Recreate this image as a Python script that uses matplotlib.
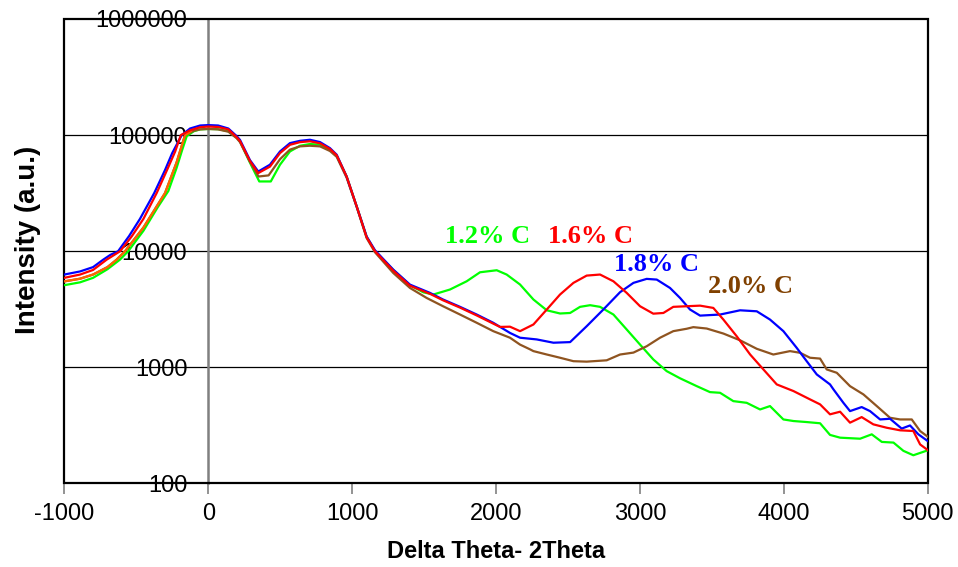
import matplotlib
matplotlib.use("Agg")
import matplotlib.pyplot as plt
from matplotlib.patches import Rectangle
from matplotlib.ticker import FixedLocator, FixedFormatter, NullLocator

# ---- data -------------------------------------------------------------
blue_x = [-1000, -890, -800, -729, -680, -626, -550, -474, -375, -300, -250, -184,
          -126, -56, 0, 69, 140, 198, 221, 290, 348, 429, 499, 568, 638, 707, 777,
          846, 893, 962, 1032, 1101, 1159, 1286, 1402, 1541, 1632, 1750, 1866, 1981,
          2097, 2167, 2283, 2399, 2515, 2630, 2746, 2862, 2955, 3047, 3117, 3209,
          3279, 3348, 3418, 3557, 3696, 3812, 3904, 3997, 4090, 4159, 4229, 4321,
          4345, 4414, 4460, 4541, 4599, 4669, 4738, 4819, 4877, 4935, 5000]
blue_y = [6300, 6700, 7300, 8470, 9300, 10000, 13500, 19000, 31700, 50000, 70000, 100000,
          114000, 121000, 122000, 121000, 114000, 98000, 91000, 61000, 48600, 55600, 72300,
          85300, 89300, 91200, 87100, 77300, 67800, 44000, 24300, 13400, 10200, 6950, 5160,
          4380, 3840, 3320, 2850, 2420, 1980, 1800, 1740, 1630, 1650, 2260, 3150, 4440,
          5340, 5780, 5700, 4830, 3960, 3150, 2790, 2850, 3100, 3040, 2580, 2050, 1470,
          1130, 869, 713, 646, 495, 420, 455, 420, 356, 361, 297, 316, 265, 232]

red_x = [-1000, -890, -800, -705, -612, -530, -450, -358, -280, -230, -190, -126, -56,
         0, 69, 140, 198, 221, 290, 348, 429, 499, 568, 638, 707, 777, 846, 893, 962,
         1032, 1101, 1159, 1286, 1402, 1541, 1632, 1750, 1866, 1981, 2028, 2097, 2167,
         2260, 2353, 2445, 2538, 2630, 2723, 2816, 2908, 3001, 3093, 3163, 3232, 3325,
         3418, 3510, 3580, 3673, 3766, 3858, 3951, 4067, 4182, 4252, 4321, 4391, 4460,
         4541, 4622, 4715, 4808, 4900, 4947, 5000]
red_y = [5900, 6300, 6900, 8470, 10000, 13500, 19000, 31700, 52000, 72000, 100000, 110000,
         117000, 118500, 117500, 112000, 96000, 89000, 60000, 47100, 53500, 70000, 82500,
         87000, 88500, 85000, 76000, 67000, 44000, 24300, 13200, 10000, 6800, 5050, 4300,
         3780, 3270, 2800, 2380, 2230, 2240, 2050, 2340, 3150, 4240, 5340, 6170, 6300,
         5510, 4380, 3360, 2900, 2940, 3320, 3360, 3400, 3250, 2580, 1850, 1290, 960, 713,
         625, 530, 480, 394, 415, 334, 373, 323, 302, 287, 283, 217, 194]

green_x = [-1000, -890, -800, -700, -613, -556, -450, -350, -277, -220, -180, -149, -100,
           -56, 0, 69, 140, 198, 221, 290, 355, 435, 499, 568, 638, 707, 777, 846, 893,
           962, 1032, 1101, 1159, 1286, 1402, 1495, 1565, 1680, 1796, 1889, 2005, 2074,
           2167, 2260, 2353, 2445, 2515, 2584, 2654, 2723, 2816, 2908, 3001, 3093, 3186,
           3279, 3395, 3487, 3557, 3649, 3742, 3835, 3904, 3997, 4067, 4159, 4252, 4321,
           4391, 4530, 4611, 4681, 4762, 4831, 4900, 5000]
green_y = [5100, 5400, 5900, 7000, 8470, 10000, 15000, 24000, 33000, 52000, 75000, 98000,
           108000, 112000, 113000, 112500, 108000, 95000, 88000, 58000, 39900, 39900, 55600,
           72300, 81000, 83800, 82700, 75000, 66000, 44000, 24300, 13300, 10000, 6900, 5100,
           4430, 4240, 4680, 5510, 6590, 6860, 6300, 5170, 3840, 3100, 2910, 2940, 3320,
           3430, 3320, 2850, 2120, 1570, 1170, 928, 805, 689, 612, 604, 512, 495, 434, 464,
           356, 345, 338, 330, 262, 248, 243, 265, 228, 225, 191, 175, 193]

orange_x = [-1000, -890, -800, -700, -636, -578, -450, -300, -220, -161, -120]
orange_y = [5500, 5800, 6300, 7300, 8470, 10000, 16000, 31700, 58000, 100000, 108000]

brown_x = [-1000, -890, -800, -700, -636, -578, -450, -300, -220, -161, -100, -56, 0,
           69, 140, 198, 221, 290, 350, 420, 499, 568, 638, 707, 777, 846, 893, 962,
           1032, 1101, 1159, 1286, 1402, 1518, 1632, 1750, 1866, 1981, 2097, 2167, 2236,
           2260, 2353, 2445, 2538, 2630, 2769, 2862, 2955, 3047, 3140, 3232, 3325, 3371,
           3464, 3580, 3696, 3812, 3927, 4043, 4113, 4182, 4252, 4298, 4368, 4460, 4553,
           4646, 4738, 4808, 4889, 4947, 5000]
brown_y = [5500, 5800, 6300, 7300, 8470, 10000, 16000, 31700, 58000, 100000, 109000, 112000,
           113000, 112000, 107000, 94000, 87000, 59000, 44000, 45000, 62000, 75000, 80000,
           81000, 80000, 73000, 65000, 43000, 24000, 13000, 9800, 6500, 4830, 3960, 3360,
           2850, 2420, 2050, 1800, 1570, 1430, 1380, 1290, 1210, 1130, 1120, 1150, 1290,
           1340, 1520, 1800, 2050, 2150, 2220, 2160, 1955, 1710, 1445, 1290, 1380, 1335,
           1210, 1190, 960, 898, 689, 585, 464, 368, 356, 356, 283, 253]

labels = ["1.2% C", "1.6% C", "1.8% C", "2.0% C"]
label_x = [1646, 2361, 2820, 3475]
label_y = [13400, 13400, 7680, 4990]

x_ticks = [-1000, 0, 1000, 2000, 3000, 4000, 5000]
y_ticks = [100, 1000, 10000, 100000, 1000000]
y_ticklabels = ["100", "1000", "10000", "100000", "1000000"]

# ---- style ------------------------------------------------------------
c_blue = "#0000ff"
c_red = "#ff0000"
c_green = "#00ff00"
c_orange = "#ff6600"
c_brown = "#8f5420"
c_brown_text = "#804000"

fig = plt.figure(figsize=(9.58, 5.67), dpi=100)
ax = fig.add_axes([0.0671, 0.1473, 0.9013, 0.8192])

ax.set_yscale("log")
ax.set_xlim(-1000, 5000)
ax.set_ylim(100, 1000000)

lw = 1.6
ax.plot(green_x, green_y, color=c_green, lw=lw, zorder=3)
ax.plot(brown_x, brown_y, color=c_brown, lw=lw, zorder=4)
ax.plot(orange_x, orange_y, color=c_orange, lw=lw, zorder=5)
ax.plot(red_x, red_y, color=c_red, lw=lw, zorder=6)
ax.plot(blue_x, blue_y, color=c_blue, lw=lw, zorder=5.5)

# horizontal gridlines at each decade
for yv in y_ticks[1:-1]:
    ax.axhline(yv, color="black", lw=0.9, zorder=1)

# vertical axis sits at x = 0
ax.spines["left"].set_position(("data", 0))
ax.spines["left"].set_color("#808080")
ax.spines["left"].set_linewidth(1.8)
ax.spines["left"].set_zorder(1)
for side in ("top", "right", "bottom"):
    ax.spines[side].set_visible(False)

# outer frame
ax.add_patch(Rectangle((0, 0), 1, 1, transform=ax.transAxes, fill=False,
                       edgecolor="black", lw=1.6, zorder=2, clip_on=False))

ax.yaxis.set_major_locator(FixedLocator(y_ticks))
ax.yaxis.set_major_formatter(FixedFormatter(y_ticklabels))
ax.yaxis.set_minor_locator(NullLocator())
ax.tick_params(axis="y", length=0, pad=15, labelsize=17)
for t in ax.get_yticklabels():
    t.set_fontfamily("Liberation Sans")

ax.set_xticks(x_ticks)
ax.set_xticklabels([str(v) for v in x_ticks])
ax.tick_params(axis="x", direction="out", length=8, width=1.2, color="#808080",
               pad=6, labelsize=17)
for t in ax.get_xticklabels():
    t.set_fontfamily("Liberation Sans")

# series annotations
text_colors = [c_green, c_red, c_blue, c_brown_text]
for s, xv, yv, col in zip(labels, label_x, label_y, text_colors):
    ax.text(xv, yv, s, color=col, fontsize=19, fontweight="bold",
            family="Liberation Serif", ha="left", va="center", zorder=7)

fig.text(0.029, 0.577, "Intensity (a.u.)", rotation=90, ha="center", va="center",
         fontsize=20, fontweight="bold", family="Liberation Sans")
fig.text(0.518, 0.027, "Delta Theta- 2Theta", ha="center", va="center",
         fontsize=17, fontweight="bold", family="Liberation Sans")

fig.savefig("out.png", dpi=100)
